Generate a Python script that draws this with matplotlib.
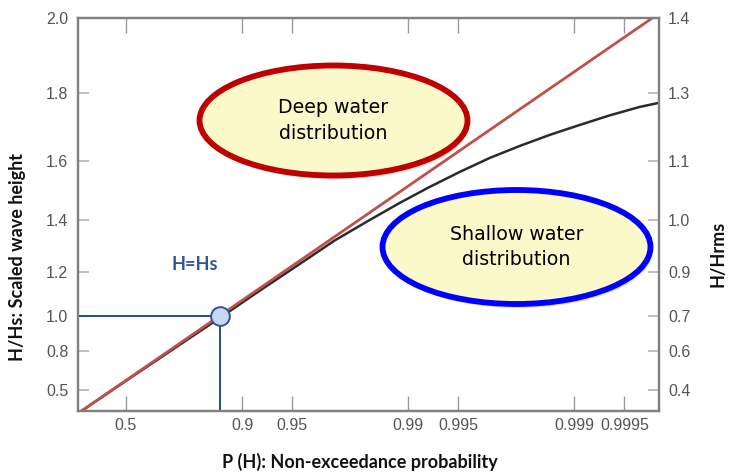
import numpy as np
import matplotlib.pyplot as plt
from matplotlib.patches import Ellipse

# non-exceedance probability axis ticks
p_ticks = [0.5, 0.9, 0.95, 0.99, 0.995, 0.999, 0.9995]
p_labels = ["0.5", "0.9", "0.95", "0.99", "0.995", "0.999", "0.9995"]

# left axis H/Hs and right axis H/Hrms labels (same positions)
h_ticks = [0.5, 0.8, 1.0, 1.2, 1.4, 1.6, 1.8, 2.0]
h_labels = ["0.5", "0.8", "1.0", "1.2", "1.4", "1.6", "1.8", "2.0"]
rms_labels = ["0.4", "0.6", "0.7", "0.9", "1.0", "1.1", "1.3", "1.4"]
h_dark = [0.5, 1.0, 1.4, 2.0]

# deep water (Rayleigh) line
deep_p = [0.029, 0.99966]
deep_h = [0.12, 2.0]

# shallow water (composite) curve
shallow_p = [0.029, 0.5, 0.8647, 0.9218, 0.9550, 0.97227, 0.98293, 0.98872,
             0.99255, 0.99509, 0.99676, 0.997859, 0.998586, 0.999066,
             0.999383, 0.999593, 0.999687]
shallow_h = [0.12, 0.585, 0.99, 1.119, 1.233, 1.3256, 1.4013, 1.4612,
             1.5154, 1.5645, 1.609, 1.646, 1.6795, 1.709,
             1.737, 1.7615, 1.773]

# H = Hs point
hs_p = 0.8647
hs_h = 1.0

p_lim = (0.029, 0.99969)
h_lim = (0.196, 2.0)


def fwd_p(p):
    p = np.clip(p, 0, 1 - 1e-12)
    return -np.log1p(-p)


def inv_p(t):
    return -np.expm1(-t)


def fwd_h(h):
    return np.square(h)


def inv_h(s):
    return np.sqrt(np.clip(s, 0, None))


W, H = 731, 474
fig = plt.figure(figsize=(W / 100, H / 100), dpi=100)
ax = fig.add_axes([78 / W, 1 - 411 / H, (659 - 78) / W, (411 - 18) / H])

ax.set_xscale('function', functions=(fwd_p, inv_p))
ax.set_yscale('function', functions=(fwd_h, inv_h))
ax.set_xlim(*p_lim)
ax.set_ylim(*h_lim)

ax.plot(deep_p, deep_h, color='#C0504D', lw=2, zorder=3)
ax.plot(shallow_p, shallow_h, color='#2b2b2b', lw=1.8, zorder=2)

ax.plot([p_lim[0], hs_p], [hs_h, hs_h], color='#1F4E8C', lw=1.4, zorder=4)
ax.plot([hs_p, hs_p], [h_lim[0], hs_h], color='#1F4E8C', lw=1.4, zorder=4)
ax.plot([hs_p], [hs_h], 'o', ms=13.5, mfc='#C6D9F1', mec='#2F5597', mew=1.4, zorder=5)

tick_font = dict(family='Liberation Sans', size=11.5)
ax.set_xticks(p_ticks, labels=p_labels, **tick_font, color='#555555')
ax.set_yticks(h_ticks, labels=h_labels, **tick_font, color='#555555')
ax.minorticks_off()
ax.tick_params(axis='x', direction='in', length=10.5, width=1, color='#9a9a9a',
               top=True, pad=5)
ax.tick_params(axis='y', direction='in', length=8, width=1.2, color='#b5b5b5', pad=7)
for t, v in zip(ax.yaxis.get_major_ticks(), h_ticks):
    if v in h_dark:
        t.tick1line.set_color('#555555')

ax2 = ax.twinx()
ax2.set_yscale('function', functions=(fwd_h, inv_h))
ax2.set_ylim(*h_lim)
ax2.set_yticks(h_ticks, labels=rms_labels, **tick_font, color='#555555')
ax2.minorticks_off()
ax2.tick_params(axis='y', direction='in', length=8, width=1.2, color='#b5b5b5', pad=6.5)
for t, v in zip(ax2.yaxis.get_major_ticks(), h_ticks):
    if v in h_dark:
        t.tick2line.set_color('#555555')

for a in (ax, ax2):
    for s in a.spines.values():
        s.set_color('#808080')
        s.set_linewidth(1.6)


# callout ellipses
def bubble(cx, cy, w, h, edge, text):
    shadow = Ellipse(((cx + 2) / W, 1 - (cy + 4) / H), w / W, h / H,
                     transform=fig.transFigure, facecolor='#000000', alpha=0.12,
                     edgecolor='none', zorder=6)
    e = Ellipse((cx / W, 1 - cy / H), w / W, h / H, transform=fig.transFigure,
                facecolor='#FBF9C9', edgecolor=edge, lw=4.2, zorder=7)
    fig.patches.extend([shadow, e])
    fig.text(cx / W, 1 - cy / H, text, ha='center', va='center',
             fontsize=13.7, family='DejaVu Sans', color='#000000',
             linespacing=1.45, zorder=8)


bubble(333.5, 120.5, 268, 110, '#C00000', "Deep water\ndistribution")
bubble(516.5, 247, 268, 114, '#0000FF', "Shallow water\ndistribution")

fig.text(195 / W, 1 - 264 / H, "H=Hs", ha='center', va='center',
         fontsize=13, family='Lato', color='#2E5597', fontweight='bold')

lab_font = dict(family='Lato', fontweight='bold', fontsize=13, color='#111111')
fig.text(360 / W, 1 - 462 / H, "P (H): Non-exceedance probability",
         ha='center', va='center', **lab_font)
fig.text(18 / W, 1 - 257 / H, "H/Hs: Scaled wave height", rotation=90,
         ha='center', va='center', **lab_font)
fig.text(718 / W, 1 - 254 / H, "H/Hrms", rotation=90,
         ha='center', va='center', **lab_font)

fig.savefig('out.png', dpi=100)
